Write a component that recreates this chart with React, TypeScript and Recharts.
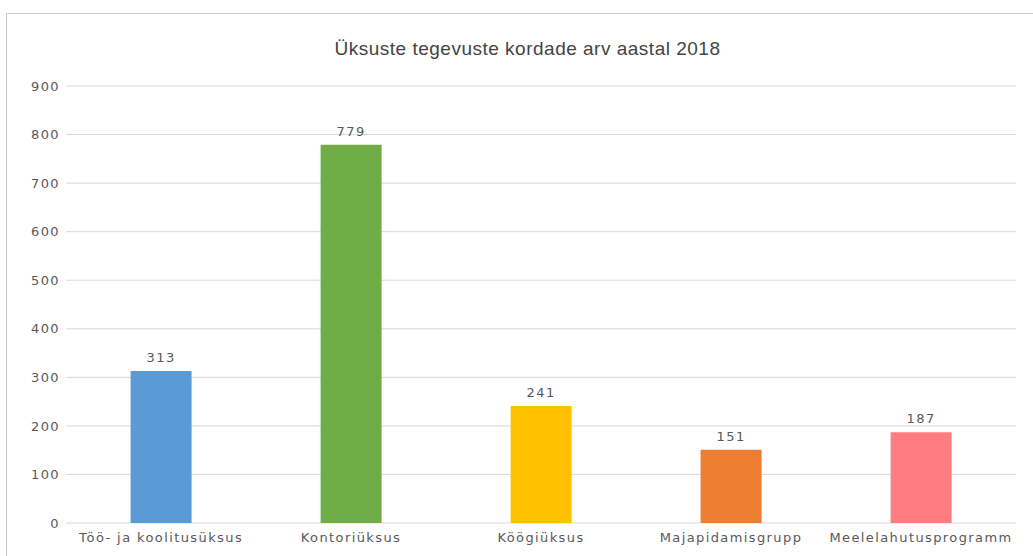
import React from "react";
import { BarChart, Bar, Cell, XAxis, YAxis, CartesianGrid, LabelList } from "recharts";

const categories = [
  "Töö- ja koolitusüksus",
  "Kontoriüksus",
  "Köögiüksus",
  "Majapidamisgrupp",
  "Meelelahutusprogramm",
];
const counts = [313, 779, 241, 151, 187];
const barColors = ["#5B9BD5", "#70AD47", "#FFC000", "#ED7D31", "#FF7C80"];
const yTicks = [0, 100, 200, 300, 400, 500, 600, 700, 800, 900];

const chartData = categories.map((name, i) => ({ name, value: counts[i] }));

const textGray = "#595959";
const tickFont = { fill: textGray, fontSize: 13, fontFamily: "'DejaVu Sans', sans-serif", letterSpacing: 1.4 };

export default function App() {
  return (
    <div
      style={{
        position: "absolute",
        left: 0,
        top: 0,
        width: 1033,
        height: 556,
        overflow: "hidden",
        background: "#fff",
      }}
    >
      <div
        style={{
          position: "absolute",
          left: 6,
          top: 13,
          width: 1040,
          height: 560,
          border: "1px solid #c9c9c9",
        }}
      />
      <div
        style={{
          position: "absolute",
          left: 0,
          width: 1055,
          top: 38,
          textAlign: "center",
          fontFamily: "'Liberation Sans', sans-serif",
          fontSize: 19,
          letterSpacing: 0.5,
          color: "#444",
        }}
      >
        Üksuste tegevuste kordade arv aastal 2018
      </div>
      <div style={{ position: "absolute", left: 0, top: 0 }}>
        <BarChart
          width={1033}
          height={556}
          data={chartData}
          margin={{ top: 86, right: 17, left: 0, bottom: 0 }}
          barCategoryGap="34%"
        >
          <CartesianGrid vertical={false} stroke="#d9d9d9" />
          <XAxis
            dataKey="name"
            axisLine={false}
            tickLine={false}
            tickSize={0}
            tickMargin={10}
            interval={0}
            height={33}
            tick={tickFont}
          />
          <YAxis
            width={66}
            domain={[0, 900]}
            ticks={yTicks}
            axisLine={false}
            tickLine={false}
            tickSize={0}
            tickMargin={6}
            tick={tickFont}
          />
          <Bar dataKey="value" isAnimationActive={false}>
            {chartData.map((entry, index) => (
              <Cell key={`cell-${index}`} fill={barColors[index]} />
            ))}
            <LabelList
              dataKey="value"
              position="top"
              offset={9}
              fill={textGray}
              fontSize={13}
              fontFamily="'DejaVu Sans', sans-serif"
              style={{ letterSpacing: 1.4 }}
            />
          </Bar>
        </BarChart>
      </div>
    </div>
  );
}
